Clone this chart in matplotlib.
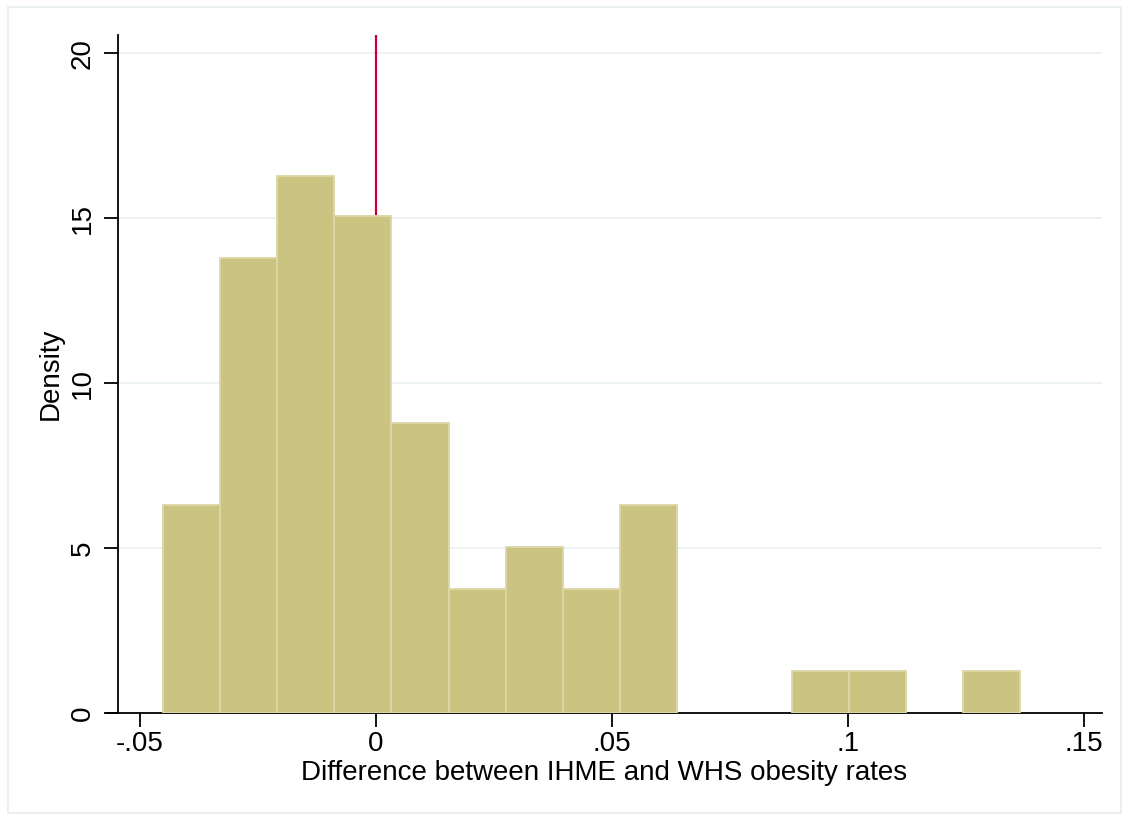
import matplotlib
matplotlib.use("Agg")
import matplotlib.pyplot as plt
from matplotlib.patches import Rectangle
import numpy as np

# Data
bin_start = -0.04523
bin_width = 0.012117
densities = [6.30, 13.79, 16.27, 15.06, 8.79, 3.76, 5.03, 3.76, 6.30, 0.0, 0.0, 1.26, 1.26, 0.0, 1.26]
x_ticks = [-0.05, 0.0, 0.05, 0.10, 0.15]
x_ticklabels = ["-.05", "0", ".05", ".1", ".15"]
y_ticks = [0, 5, 10, 15, 20]
y_ticklabels = ["0", "5", "10", "15", "20"]
ref_line = 0.0
x_label = "Difference between IHME and WHS obesity rates"
y_label = "Density"

plt.rcParams['font.family'] = ['Liberation Sans', 'DejaVu Sans']

W, H = 1129, 821
fig = plt.figure(figsize=(W / 100, H / 100), dpi=100)
fig.patch.set_facecolor("white")

left_px, right_px, top_px, bot_px = 107, 1102, 35, 713
ax = fig.add_axes([left_px / W, 1 - bot_px / H, (right_px - left_px) / W, (bot_px - top_px) / H])

dens = np.array(densities)
edges = bin_start + bin_width * np.arange(len(dens))
mask = dens > 0
ax.bar(edges[mask], dens[mask], width=bin_width, align="edge",
       color="#CAC382", edgecolor="#DCD7A6", linewidth=1.3, zorder=3)
ax.axvline(ref_line, color="#C8003A", linewidth=1.6, zorder=2)

x_left = -0.0570
x_spine = -0.0547
x_right = 0.1538
ax.set_xlim(x_left, x_right)
ax.set_ylim(0, 20.55)

for yv in y_ticks[1:]:
    ax.plot([x_spine, x_right], [yv, yv], color="#EAF1F3", linewidth=1.3, zorder=1)

ax.spines['top'].set_visible(False)
ax.spines['right'].set_visible(False)
ax.spines['left'].set_position(('data', x_spine))
for s in ['left', 'bottom']:
    ax.spines[s].set_linewidth(1.3)
    ax.spines[s].set_color("black")

ax.set_xticks(x_ticks)
ax.set_xticklabels(x_ticklabels, fontsize=20)
ax.set_yticks(y_ticks)
ax.set_yticklabels(y_ticklabels, fontsize=20, rotation=90, va="center")
ax.tick_params(axis='both', length=10, width=1.3, direction='out')
ax.tick_params(axis='x', pad=3)
ax.tick_params(axis='y', pad=6)

ax.set_xlabel(x_label, fontsize=20, labelpad=2)
ax.set_ylabel(y_label, fontsize=20, labelpad=4)

fig.add_artist(Rectangle((8 / W, 1 - 813 / H), (1121 - 8) / W, (813 - 7) / H,
                         transform=fig.transFigure, fill=False,
                         edgecolor="#E6EEF0", linewidth=1.2))

fig.savefig("out.png", dpi=100, facecolor="white")
